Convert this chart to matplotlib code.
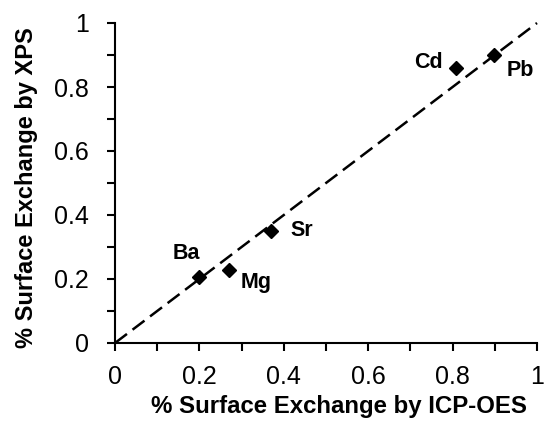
import matplotlib
matplotlib.use("Agg")
import matplotlib.pyplot as plt
from matplotlib.ticker import MultipleLocator

plt.rcParams['font.family'] = ['Liberation Sans', 'DejaVu Sans']

elements = ["Ba", "Mg", "Sr", "Cd", "Pb"]
icp = [0.198, 0.269, 0.37, 0.809, 0.899]
xps = [0.206, 0.228, 0.35, 0.859, 0.90]
label_pos = [(0.17, 0.281), (0.335, 0.19), (0.443, 0.352), (0.743, 0.878), (0.96, 0.853)]

fig = plt.figure(figsize=(5.44, 4.23), dpi=100)
ax = fig.add_axes([115/544, 1-343/423, 422/544, 320/423])

ax.plot([0, 1], [0, 1], color='black', lw=1.8, ls=(0, (6, 2.8)), zorder=2, clip_on=False)
ax.plot(icp, xps, ls='none', marker='D', ms=7, color='black', zorder=3)
for name, (lx, ly) in zip(elements, label_pos):
    ax.text(lx, ly, name, fontsize=15.5, fontweight='bold', ha='center', va='center')

ax.set_xlim(0, 1)
ax.set_ylim(0, 1)
ax.xaxis.set_major_locator(MultipleLocator(0.2))
ax.xaxis.set_minor_locator(MultipleLocator(0.1))
ax.yaxis.set_major_locator(MultipleLocator(0.2))
ax.yaxis.set_minor_locator(MultipleLocator(0.1))
ax.xaxis.set_major_formatter(plt.FuncFormatter(lambda v, p: f"{v:g}"))
ax.yaxis.set_major_formatter(plt.FuncFormatter(lambda v, p: f"{v:g}"))
for s in ['top', 'right']:
    ax.spines[s].set_visible(False)
for s in ['left', 'bottom']:
    ax.spines[s].set_linewidth(1.5)
ax.tick_params(which='both', direction='out', length=5.8, width=1.5, labelsize=18)
ax.tick_params(axis='x', which='major', pad=10)
ax.tick_params(axis='y', which='major', pad=13)
ax.set_xlabel("% Surface Exchange by ICP-OES", fontsize=17.3, fontweight='bold')
ax.set_ylabel("% Surface Exchange by XPS", fontsize=17.0, fontweight='bold')
ax.xaxis.set_label_coords(0.53, -0.2)
ax.xaxis.label.set_va('center')
ax.yaxis.set_label_coords(-0.21, 0.484)
ax.yaxis.label.set_va('center')

fig.savefig("out.png", dpi=100)
